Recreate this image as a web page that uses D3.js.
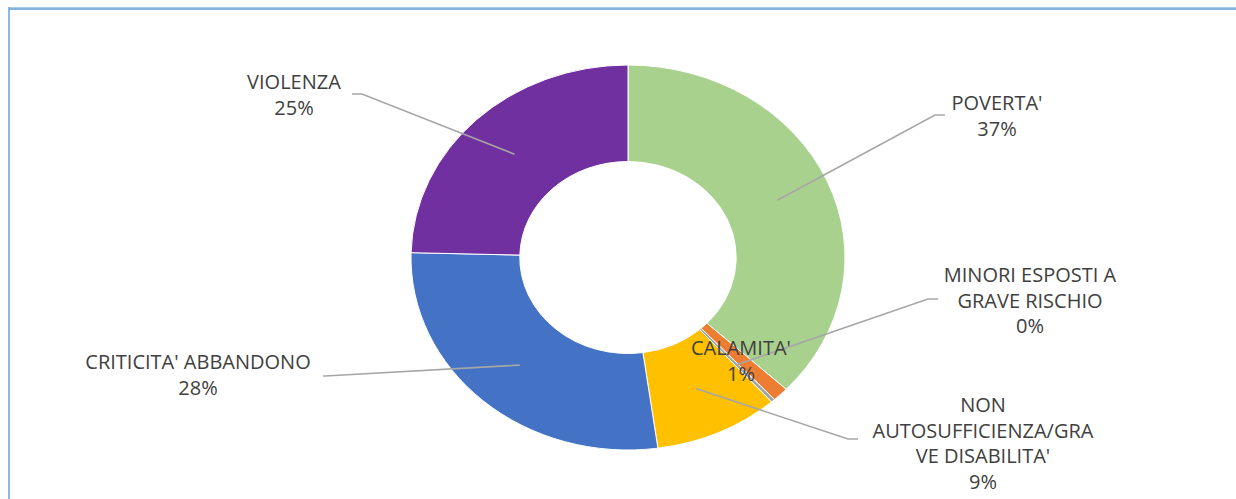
<!DOCTYPE html>
<html>
<head>
<meta charset="utf-8">
<script src="https://cdn.jsdelivr.net/npm/d3@7"></script>
<style>
  html, body { margin: 0; padding: 0; background: #ffffff; }
  svg { display: block; }
  text { font-family: "Open Sans", "DejaVu Sans", sans-serif; }
</style>
</head>
<body>
<svg id="chart" width="1236" height="499"></svg>
<script>
// ---- data ----
const categories = ["POVERTA'", "CALAMITA'", "MINORI ESPOSTI A GRAVE RISCHIO", "NON AUTOSUFFICIENZA/GRAVE DISABILITA'", "CRITICITA' ABBANDONO", "VIOLENZA"];
const values = [37.0, 1.2, 0.3, 9.3, 27.6, 24.6];
const labelLines = [
  ["POVERTA'"],
  ["CALAMITA'"],
  ["MINORI ESPOSTI A", "GRAVE RISCHIO"],
  ["NON", "AUTOSUFFICIENZA/GRA", "VE DISABILITA'"],
  ["CRITICITA' ABBANDONO"],
  ["VIOLENZA"]
];
const colors = ["#A9D18E", "#ED7D31", "#A5A5A5", "#FFC000", "#4472C4", "#7030A0"];

// ---- layout (label placement, not data) ----
const labelLayout = [
  { x: 997, y: 110, path: [[935, 115], [945, 115]] },
  { x: 741, y: 355, path: null },
  { x: 1030, y: 282, path: [[928, 299], [938, 299]] },
  { x: 983, y: 412, path: [[848, 439], [858, 439]] },
  { x: 198, y: 369, path: [[325, 376], [323, 376]] },
  { x: 294, y: 89, path: [[362, 94], [352, 94]] }
];

const W = 1236, H = 499;
const cx = 628, cy = 257.5;
const rOuter = 192.5, rInner = 96;
const sx = 217 / 192.5; // horizontal stretch
const lineH = 25.5;

const svg = d3.select("#chart");

// frame
svg.append("line").attr("x1", 9).attr("x2", W).attr("y1", 7.5).attr("y2", 7.5)
  .attr("stroke", "#A9CCEB").attr("stroke-width", 1.2);
svg.append("line").attr("x1", 9).attr("x2", W).attr("y1", 9).attr("y2", 9)
  .attr("stroke", "#5B9BD5").attr("stroke-width", 1.6);
svg.append("line").attr("x1", 9).attr("x2", 9).attr("y1", 7).attr("y2", H)
  .attr("stroke", "#6FA8DC").attr("stroke-width", 1.6);

const total = d3.sum(values);
const pie = d3.pie().sort(null).value(d => d)(values);
const arc = d3.arc().innerRadius(rInner).outerRadius(rOuter);
const midArc = d3.arc().innerRadius((rInner + rOuter) / 2).outerRadius((rInner + rOuter) / 2);

const g = svg.append("g").attr("transform", `translate(${cx},${cy}) scale(${sx},1)`);
g.selectAll("path.slice").data(pie).join("path")
  .attr("class", "slice")
  .attr("d", arc)
  .attr("fill", (d, i) => colors[i])
  .attr("stroke", "#ffffff")
  .attr("stroke-width", 1)
  .attr("vector-effect", "non-scaling-stroke");

// leader lines
pie.forEach((d, i) => {
  const L = labelLayout[i];
  if (!L.path) return;
  const c = midArc.centroid(d);
  const start = [cx + c[0] * sx, cy + c[1]];
  const pts = [start, ...L.path];
  svg.append("path")
    .attr("d", d3.line()(pts))
    .attr("fill", "none")
    .attr("stroke", "#A6A6A6")
    .attr("stroke-width", 1.6);
});

// labels
pie.forEach((d, i) => {
  const L = labelLayout[i];
  const lines = labelLines[i].concat([Math.round(values[i] / total * 100) + "%"]);
  const t = svg.append("text")
    .attr("text-anchor", "middle")
    .attr("fill", "#404040")
    .attr("font-size", 20);
  lines.forEach((s, k) => {
    t.append("tspan").attr("x", L.x).attr("y", L.y + k * lineH).text(s);
  });
});
</script>
</body>
</html>
